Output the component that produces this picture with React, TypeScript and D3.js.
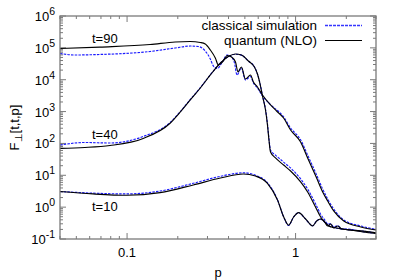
import React from "react";
import * as d3 from "d3";

// ---------- data ----------
const pT10 = [0.04, 0.0628, 0.1, 0.157, 0.247, 0.358, 0.49, 0.578, 0.681, 0.781, 0.849, 0.909, 0.973, 1.042, 1.147, 1.262, 1.333, 1.409, 1.488, 1.572, 1.683, 1.985, 2.438, 3.0];
const fT10Quantum = [3.1, 2.6, 2.36, 2.85, 4.96, 8.2, 11.0, 9.5, 5.6, 1.68, 0.5, 0.27, 0.49, 0.67, 0.425, 0.256, 0.368, 0.425, 0.342, 0.256, 0.23, 0.199, 0.179, 0.155];
const fT10Classical = [3.1, 2.75, 2.6, 3.2, 5.6, 9.3, 12.0, 10.0, 5.8, 1.7, 0.5, 0.265, 0.49, 0.67, 0.42, 0.26, 0.37, 0.42, 0.34, 0.26, 0.23, 0.2, 0.18, 0.155];

const pT40 = [0.04, 0.0562, 0.0792, 0.1246, 0.18, 0.207, 0.237, 0.272, 0.312, 0.358, 0.399, 0.44, 0.477, 0.525, 0.57, 0.594, 0.619, 0.636, 0.663, 0.681, 0.695, 0.71, 0.76, 0.849, 0.934, 1.071, 1.179, 1.315, 1.409, 1.488, 1.55, 1.615, 1.683, 1.778, 1.878, 2.125, 2.505, 3.0];
const fT40Quantum = [70, 74.6, 86, 143, 429, 970, 2310, 5500, 14100, 33500, 53600, 64100, 59700, 38700, 25100, 15100, 6350, 3080, 1120, 380, 128, 54, 35, 21, 13.6, 6.2, 3.0, 1.0, 0.49, 0.342, 0.256, 0.296, 0.222, 0.256, 0.206, 0.192, 0.166, 0.149];
const fT40Classical = [89, 107, 103, 165, 454, 1000, 2380, 5600, 14300, 33500, 53000, 63000, 59000, 38500, 25000, 15000, 6500, 3200, 1180, 410, 140, 62, 43, 26, 17, 7.7, 3.7, 1.25, 0.6, 0.4, 0.3, 0.3, 0.24, 0.26, 0.21, 0.2, 0.17, 0.152];

const pT90Quantum = [0.04, 0.069, 0.137, 0.193, 0.237, 0.272, 0.291, 0.312, 0.334, 0.348, 0.368, 0.394, 0.416, 0.44, 0.455, 0.477, 0.504, 0.54, 0.562, 0.594, 0.636, 0.71, 0.771, 0.849, 0.934, 1.071, 1.179, 1.333, 1.448, 1.55, 1.683, 1.931, 2.438, 3.0];
const fT90Quantum = [95500, 106000, 127000, 153000, 158000, 147000, 132000, 85700, 48100, 29000, 36000, 57500, 51700, 36000, 17500, 25100, 10500, 14100, 8480, 5900, 3310, 1610, 1040, 628, 264, 111, 35, 8.2, 3.0, 1.56, 0.76, 0.368, 0.238, 0.192];
const pT90Classical = [0.04, 0.049, 0.069, 0.137, 0.193, 0.237, 0.265, 0.291, 0.312, 0.325, 0.343, 0.368, 0.391, 0.41, 0.434, 0.449, 0.477, 0.504, 0.54, 0.562, 0.594, 0.636, 0.71, 0.849, 0.934, 1.071, 1.179, 1.333, 1.448, 1.55, 1.683, 1.931, 2.438, 3.0];
const fT90Classical = [66500, 59700, 62000, 77000, 99000, 114000, 110000, 79500, 44700, 27000, 22500, 36000, 59700, 55500, 33500, 14100, 23300, 9800, 12600, 7900, 5500, 3100, 1650, 680, 305, 130, 43, 10.2, 3.7, 1.8, 0.87, 0.395, 0.256, 0.2];

const yTickExps = [-1, 0, 1, 2, 3, 4, 5, 6];
const xTickLabels = ["0.1", "1"];
const xTickValues = [0.1, 1];
const curveLabels = ["t=90", "t=40", "t=10"];
const curveLabelValues = [1.42e5, 138, 0.73];
const legendLabels = ["classical simulation", "quantum (NLO)"];

// ---------- chart ----------
const W = 400, H = 280;
const M = { left: 60, right: 24, top: 16, bottom: 41 };
const FONT = "'Liberation Sans', Arial, Helvetica, sans-serif";
const AXIS = "#7a7a7a";
const BLUE = "#1a1aff";
const DASH = "2.5,1.2";

export default function App() {
  const x = d3.scaleLog().domain([0.04, 3]).range([M.left, W - M.right]);
  const y = d3.scaleLog().domain([0.1, 1e6]).range([H - M.bottom, M.top]);
  const x0 = M.left, x1 = W - M.right, y0 = H - M.bottom, y1 = M.top;

  const line = (ps: number[], fs: number[]) =>
    d3.line<number>()
      .x((_, i) => x(ps[i]))
      .y((f) => y(f))
      .curve(d3.curveMonotoneX)(fs) || "";

  const series = [
    { p: pT90Classical, f: fT90Classical, c: BLUE, dash: DASH },
    { p: pT40, f: fT40Classical, c: BLUE, dash: DASH },
    { p: pT10, f: fT10Classical, c: BLUE, dash: DASH },
    { p: pT90Quantum, f: fT90Quantum, c: "#000000", dash: undefined },
    { p: pT40, f: fT40Quantum, c: "#000000", dash: undefined },
    { p: pT10, f: fT10Quantum, c: "#000000", dash: undefined },
  ];

  const yMinor: number[] = [];
  for (let e = -1; e < 6; e++) for (let k = 2; k <= 9; k++) yMinor.push(k * Math.pow(10, e));
  const xMinor: number[] = [];
  for (let e = -2; e <= 0; e++) for (let k = 2; k <= 9; k++) {
    const v = k * Math.pow(10, e);
    if (v >= 0.04 && v <= 3) xMinor.push(v);
  }

  return (
    <svg width={W} height={H} style={{ display: "block", position: "absolute", left: 0, top: 0 }}>
      <rect width={W} height={H} fill="#fff" />
      <defs>
        <clipPath id="plot">
          <rect x={x0} y={y1} width={x1 - x0} height={y0 - y1} />
        </clipPath>
      </defs>
      <g stroke={AXIS} strokeWidth={1}>
        {yTickExps.map((e) => {
          const yy = y(Math.pow(10, e));
          return (
            <g key={"ym" + e}>
              <line x1={x0} x2={x0 + 6} y1={yy} y2={yy} />
              <line x1={x1} x2={x1 - 6} y1={yy} y2={yy} />
            </g>
          );
        })}
        {yMinor.map((v, i) => (
          <g key={"yn" + i}>
            <line x1={x0} x2={x0 + 3} y1={y(v)} y2={y(v)} />
            <line x1={x1} x2={x1 - 3} y1={y(v)} y2={y(v)} />
          </g>
        ))}
        {xTickValues.map((v, i) => (
          <g key={"xm" + i}>
            <line x1={x(v)} x2={x(v)} y1={y0} y2={y0 - 6} />
            <line x1={x(v)} x2={x(v)} y1={y1} y2={y1 + 6} />
          </g>
        ))}
        {xMinor.map((v, i) => (
          <g key={"xn" + i}>
            <line x1={x(v)} x2={x(v)} y1={y0} y2={y0 - 3} />
            <line x1={x(v)} x2={x(v)} y1={y1} y2={y1 + 3} />
          </g>
        ))}
      </g>
      <g clipPath="url(#plot)" fill="none">
        {series.map((s, i) => (
          <path key={i} d={line(s.p, s.f)} stroke={s.c} strokeWidth={1.15} strokeDasharray={s.dash} />
        ))}
      </g>
      <rect x={x0} y={y1} width={x1 - x0} height={y0 - y1} fill="none" stroke={AXIS} strokeWidth={1.3} />
      <g fontFamily={FONT} fontSize={13} fill="#000">
        {yTickExps.map((e) => (
          <text key={e} x={x0 - 5} y={y(Math.pow(10, e)) + 5} textAnchor="end">
            10<tspan fontSize={10.5} dy={-6}>{e}</tspan>
          </text>
        ))}
        {xTickValues.map((v, i) => (
          <text key={i} x={x(v)} y={y0 + 18} textAnchor="middle">{xTickLabels[i]}</text>
        ))}
        <text x={(x0 + x1) / 2} y={H - 3} textAnchor="middle">p</text>
        <text transform={`translate(19,${(y0 + y1) / 2}) rotate(-90)`} textAnchor="middle">
          F<tspan fontSize={10} dy={3}>⊥</tspan><tspan dy={-3}>[t,t,p]</tspan>
        </text>
        {curveLabels.map((l, i) => (
          <text key={l} x={92} y={y(curveLabelValues[i])}>{l}</text>
        ))}
        {legendLabels.map((l, i) => (
          <text key={l} x={317} y={30 + i * 15} textAnchor="end" fontSize={13.5}>{l}</text>
        ))}
      </g>
      <g fill="none">
        <path d="M325,25.5H362" stroke="#3636ff" strokeWidth={1.4} strokeDasharray="3,1" />
        <path d="M325,40.5H362" stroke="#000" strokeWidth={1.2} />
      </g>
    </svg>
  );
}
